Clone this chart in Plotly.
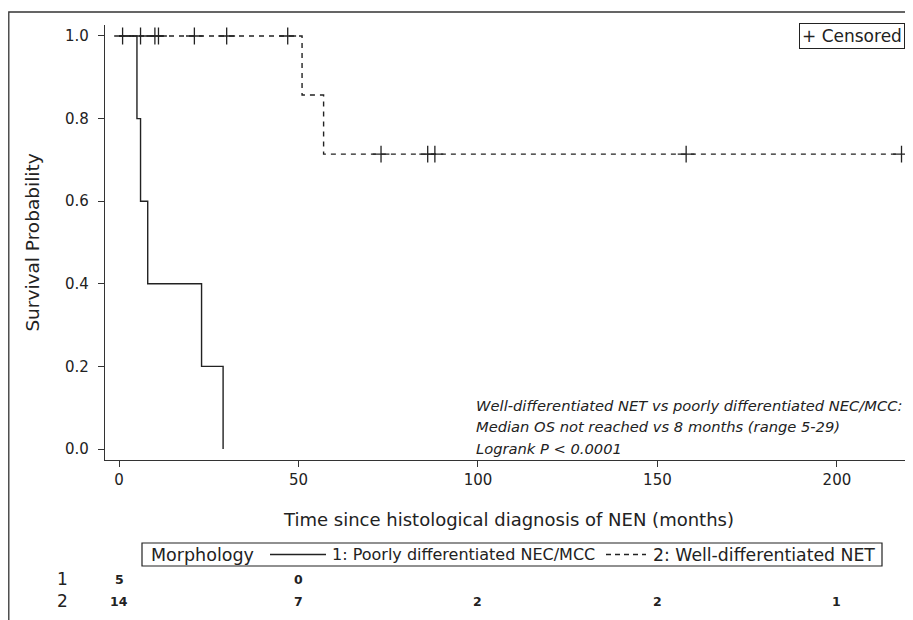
import plotly.graph_objects as go

# ---- data ----
# Group 1: Poorly differentiated NEC/MCC (step function)
g1_time = [0, 5, 6, 8, 23, 29]
g1_surv = [1.0, 0.8, 0.6, 0.4, 0.2, 0.0]

# Group 2: Well-differentiated NET (step function)
g2_time = [0, 51, 57, 218]
g2_surv = [1.0, 0.857, 0.714, 0.714]

# Censored observations (group 2)
cens_time = [1, 6, 10, 11, 21, 30, 47, 73, 86, 88, 158, 218]
cens_surv = [1.0, 1.0, 1.0, 1.0, 1.0, 1.0, 1.0, 0.714, 0.714, 0.714, 0.714, 0.714]

# Number at risk
risk_times = [0, 50, 100, 150, 200]
risk_g1 = [5, 0, None, None, None]
risk_g2 = [14, 7, 2, 2, 1]

x_ticks = [0, 50, 100, 150, 200]
y_ticks = [0.0, 0.2, 0.4, 0.6, 0.8, 1.0]
y_tick_labels = ["0.0", "0.2", "0.4", "0.6", "0.8", "1.0"]

legend_title = "Morphology"
g1_name = "1: Poorly differentiated NEC/MCC"
g2_name = "2: Well-differentiated NET"
note_lines = [
    "Well-differentiated NET vs poorly differentiated NEC/MCC:",
    "Median OS not reached vs 8 months (range 5-29)",
    "Logrank P < 0.0001",
]

# ---- layout helpers ----
# the page body has an 8px margin, so the figure is drawn 8px in from the
# top-left corner of the window; positions below are window pixels.
OFF = 8
W, H = 913 - OFF, 620 - OFF
FONT = "DejaVu Sans"
INK = "#222222"
AX = "#333333"


def px(x):
    return (x - OFF) / W


def py(y):
    return 1 - (y - OFF) / H


fig = go.Figure()

fig.add_trace(go.Scatter(
    x=g1_time, y=g1_surv, mode="lines", line_shape="hv",
    line=dict(color="#222222", width=1.4), name=g1_name, showlegend=False,
    hoverinfo="skip"))
fig.add_trace(go.Scatter(
    x=g2_time, y=g2_surv, mode="lines", line_shape="hv",
    line=dict(color="#222222", width=1.4, dash="5px,5px"), name=g2_name,
    showlegend=False, hoverinfo="skip"))
fig.add_trace(go.Scatter(
    x=cens_time, y=cens_surv, mode="markers", cliponaxis=False,
    marker=dict(symbol="cross-thin", size=12, line=dict(color="#222222", width=1.3)),
    name="Censored", showlegend=False, hoverinfo="skip"))

annotations = []
shapes = []

# outer frame
shapes.append(dict(type="rect", xref="paper", yref="paper",
                   x0=px(8.8), x1=px(913 + 20), y0=py(620 + 20), y1=py(12),
                   line=dict(color="#333333", width=1.3)))

# censored legend box
annotations.append(dict(xref="paper", yref="paper", x=px(905), y=py(36),
                        xanchor="right", yanchor="middle", showarrow=False,
                        text="+ Censored", font=dict(family=FONT, size=17, color=INK),
                        bordercolor="#222222", borderwidth=1, borderpad=2,
                        bgcolor="white"))

# statistics note
for i, t in enumerate(note_lines):
    annotations.append(dict(xref="paper", yref="paper", x=px(474), y=py(405 + 21.5 * i),
                            xanchor="left", yanchor="middle", showarrow=False,
                            text="<i>" + t + "</i>",
                            font=dict(family=FONT, size=14.7, color=INK)))

# bottom legend box
LY = 554.5
shapes.append(dict(type="rect", xref="paper", yref="paper",
                   x0=px(142), x1=px(882), y0=py(566), y1=py(543),
                   line=dict(color="#222222", width=1.2)))
annotations.append(dict(xref="paper", yref="paper", x=px(149), y=py(LY),
                        xanchor="left", yanchor="middle", showarrow=False,
                        text=legend_title, font=dict(family=FONT, size=17.5, color=INK)))
shapes.append(dict(type="line", xref="paper", yref="paper",
                   x0=px(270), x1=px(326), y0=py(LY), y1=py(LY),
                   line=dict(color="#222222", width=1.3)))
annotations.append(dict(xref="paper", yref="paper", x=px(330), y=py(LY),
                        xanchor="left", yanchor="middle", showarrow=False,
                        text=g1_name, font=dict(family=FONT, size=16, color=INK)))
shapes.append(dict(type="line", xref="paper", yref="paper",
                   x0=px(606), x1=px(646), y0=py(LY), y1=py(LY),
                   line=dict(color="#222222", width=1.3, dash="5px,4px")))
annotations.append(dict(xref="paper", yref="paper", x=px(651), y=py(LY),
                        xanchor="left", yanchor="middle", showarrow=False,
                        text=g2_name, font=dict(family=FONT, size=17.3, color=INK)))

# number at risk
annotations.append(dict(xref="paper", yref="paper", x=px(62), y=py(579),
                        xanchor="center", yanchor="middle", showarrow=False,
                        text="1", font=dict(family=FONT, size=17, color=INK)))
annotations.append(dict(xref="paper", yref="paper", x=px(62), y=py(601),
                        xanchor="center", yanchor="middle", showarrow=False,
                        text="2", font=dict(family=FONT, size=17, color=INK)))
for t, a, b in zip(risk_times, risk_g1, risk_g2):
    if a is not None:
        annotations.append(dict(xref="x", yref="paper", x=t, y=py(579),
                                xanchor="center", yanchor="middle", showarrow=False,
                                text="<b>%d</b>" % a,
                                font=dict(family=FONT, size=12.5, color=INK)))
    if b is not None:
        annotations.append(dict(xref="x", yref="paper", x=t, y=py(601),
                                xanchor="center", yanchor="middle", showarrow=False,
                                text="<b>%d</b>" % b,
                                font=dict(family=FONT, size=12.5, color=INK)))

fig.update_layout(
    width=W, height=H,
    margin=dict(l=0, r=0, t=0, b=0),
    paper_bgcolor="white", plot_bgcolor="white",
    font=dict(family=FONT, color=INK),
    showlegend=False,
    xaxis=dict(domain=[px(105), 1.0], range=[-3.9, 221.2],
               tickvals=x_ticks, ticks="outside", ticklen=6, tickwidth=1.3,
               tickcolor=AX, showline=True, linecolor=AX, linewidth=1.3,
               showgrid=False, zeroline=False,
               tickfont=dict(family=FONT, size=15, color=INK),
               title=dict(text="Time since histological diagnosis of NEN (months)",
                          font=dict(family=FONT, size=18, color=INK), standoff=25)),
    yaxis=dict(domain=[py(460), py(25)], range=[-0.02663, 1.0266],
               tickvals=y_ticks, ticktext=y_tick_labels, ticks="outside", ticklen=6,
               tickwidth=1.3, tickcolor=AX, showline=True, linecolor=AX, linewidth=1.3,
               showgrid=False, zeroline=False, ticklabelstandoff=6,
               tickfont=dict(family=FONT, size=15, color=INK),
               title=dict(text="Survival Probability",
                          font=dict(family=FONT, size=18.5, color=INK), standoff=20)),
    shapes=shapes,
    annotations=annotations,
)

fig.write_html("out.html")
